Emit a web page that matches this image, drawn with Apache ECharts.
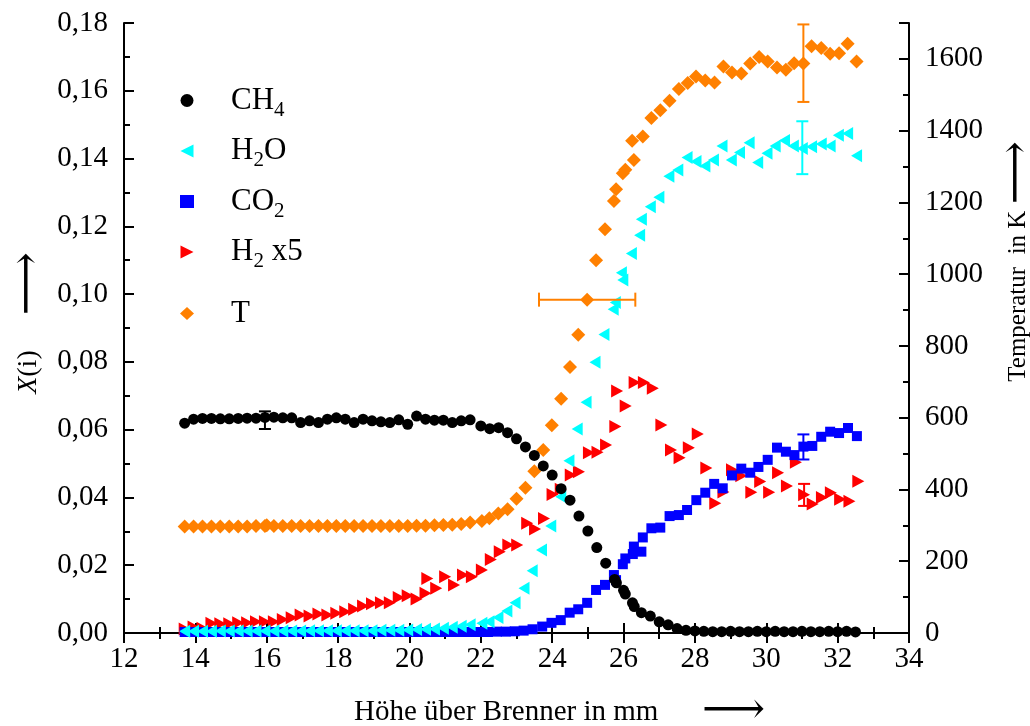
<!DOCTYPE html>
<html>
<head>
<meta charset="utf-8">
<title>Profile</title>
<script src="https://cdn.jsdelivr.net/npm/echarts@6.0.0/dist/echarts.min.js"></script>
<style>
  html, body { margin: 0; padding: 0; background: #fff; }
  #chart { width: 1030px; height: 726px; }
</style>
</head>
<body>
<div id="chart"></div>
<script>
// [height in mm, mole fraction]
const ch4 = [
  [13.70, 0.0619], [13.95, 0.0631], [14.20, 0.0633], [14.45, 0.0633], [14.70, 0.0632], [14.95, 0.0632],
  [15.20, 0.0633], [15.45, 0.0634], [15.70, 0.0634], [15.95, 0.0636], [16.20, 0.0637], [16.45, 0.0635],
  [16.70, 0.0635], [16.95, 0.0621], [17.20, 0.0626], [17.45, 0.0621], [17.70, 0.0631], [17.95, 0.0635],
  [18.20, 0.0631], [18.45, 0.0621], [18.70, 0.0631], [18.95, 0.0626], [19.20, 0.0623], [19.45, 0.0621],
  [19.70, 0.0629], [19.95, 0.0616], [20.20, 0.0640], [20.45, 0.0631], [20.70, 0.0628], [20.95, 0.0628],
  [21.20, 0.0621], [21.45, 0.0626], [21.70, 0.0629], [22.00, 0.0611], [22.25, 0.0603], [22.50, 0.0606],
  [22.75, 0.0591], [23.00, 0.0573], [23.25, 0.0549], [23.50, 0.0524], [23.75, 0.0493], [24.00, 0.0466],
  [24.25, 0.0426], [24.50, 0.0392], [24.75, 0.0345], [25.00, 0.0301], [25.25, 0.0252], [25.50, 0.0206],
  [25.75, 0.0158], [25.80, 0.0148], [26.00, 0.0126], [26.05, 0.0115], [26.25, 0.0089], [26.30, 0.0078],
  [26.50, 0.0060], [26.75, 0.0050], [27.00, 0.0033], [27.25, 0.0024], [27.50, 0.0013], [27.75, 0.0008],
  [28.00, 0.0006], [28.25, 0.0005], [28.50, 0.0004], [28.75, 0.0004], [29.00, 0.0005], [29.25, 0.0004],
  [29.50, 0.0004], [29.75, 0.0005], [30.00, 0.0004], [30.25, 0.0005], [30.50, 0.0004], [30.75, 0.0004],
  [31.00, 0.0005], [31.25, 0.0004], [31.50, 0.0004], [31.75, 0.0005], [32.00, 0.0004], [32.25, 0.0005],
  [32.50, 0.0003]
];

const h2o = [
  [13.70, 0.0005], [13.95, 0.0005], [14.20, 0.0005], [14.45, 0.0005], [14.70, 0.0006], [14.95, 0.0006],
  [15.20, 0.0006], [15.45, 0.0006], [15.70, 0.0006], [15.95, 0.0006], [16.20, 0.0006], [16.45, 0.0006],
  [16.70, 0.0006], [16.95, 0.0006], [17.20, 0.0007], [17.45, 0.0007], [17.70, 0.0007], [17.95, 0.0007],
  [18.20, 0.0007], [18.45, 0.0007], [18.70, 0.0007], [18.95, 0.0007], [19.20, 0.0008], [19.45, 0.0008],
  [19.70, 0.0008], [19.95, 0.0009], [20.20, 0.0010], [20.45, 0.0011], [20.70, 0.0012], [20.95, 0.0014],
  [21.20, 0.0017], [21.45, 0.0020], [21.70, 0.0024], [22.03, 0.0029], [22.23, 0.0033], [22.48, 0.0046],
  [22.73, 0.0065], [22.96, 0.0089], [23.21, 0.0132], [23.44, 0.0184], [23.70, 0.0245], [23.96, 0.0316],
  [24.24, 0.0402], [24.47, 0.0508], [24.70, 0.0602], [24.95, 0.0681], [25.20, 0.0799], [25.45, 0.0881],
  [25.71, 0.0955], [25.77, 0.0975], [25.94, 0.1063], [25.98, 0.1042], [26.22, 0.1120], [26.45, 0.1174],
  [26.50, 0.1221], [26.75, 0.1258], [26.99, 0.1286], [27.27, 0.1348], [27.52, 0.1366], [27.78, 0.1403],
  [28.03, 0.1391], [28.28, 0.1378], [28.52, 0.1396], [28.76, 0.1437], [29.02, 0.1396], [29.25, 0.1418],
  [29.52, 0.1447], [29.76, 0.1388], [30.02, 0.1416], [30.25, 0.1437], [30.51, 0.1453], [30.76, 0.1437],
  [31.01, 0.1430], [31.27, 0.1435], [31.54, 0.1443], [31.79, 0.1437], [32.02, 0.1469], [32.28, 0.1474],
  [32.53, 0.1408]
];

const co2 = [
  [13.70, 0.0003], [13.95, 0.0003], [14.20, 0.0003], [14.45, 0.0003], [14.70, 0.0003], [14.95, 0.0003],
  [15.20, 0.0003], [15.45, 0.0003], [15.70, 0.0003], [15.95, 0.0003], [16.20, 0.0003], [16.45, 0.0003],
  [16.70, 0.0003], [16.95, 0.0003], [17.20, 0.0003], [17.45, 0.0003], [17.70, 0.0003], [17.95, 0.0003],
  [18.20, 0.0003], [18.45, 0.0003], [18.70, 0.0003], [18.95, 0.0003], [19.20, 0.0003], [19.45, 0.0003],
  [19.70, 0.0003], [19.95, 0.0003], [20.20, 0.0003], [20.45, 0.0003], [20.70, 0.0003], [20.95, 0.0003],
  [21.20, 0.0003], [21.45, 0.0003], [21.70, 0.0003], [21.95, 0.0003], [22.20, 0.0003], [22.45, 0.0004],
  [22.70, 0.0004], [22.95, 0.0005], [23.20, 0.0007], [23.45, 0.0011], [23.72, 0.0019], [23.98, 0.0030],
  [24.24, 0.0038], [24.49, 0.0060], [24.73, 0.0070], [24.98, 0.0089], [25.23, 0.0127], [25.48, 0.0142],
  [25.73, 0.0171], [25.79, 0.0156], [25.98, 0.0203], [26.05, 0.0220], [26.26, 0.0233], [26.29, 0.0255],
  [26.50, 0.0240], [26.54, 0.0282], [26.78, 0.0309], [27.03, 0.0311], [27.29, 0.0345], [27.55, 0.0348],
  [27.78, 0.0363], [28.04, 0.0392], [28.29, 0.0414], [28.54, 0.0440], [28.78, 0.0427], [29.04, 0.0465],
  [29.30, 0.0485], [29.55, 0.0473], [29.78, 0.0490], [30.04, 0.0511], [30.30, 0.0547], [30.55, 0.0535],
  [30.79, 0.0525], [31.04, 0.0550], [31.29, 0.0552], [31.54, 0.0579], [31.79, 0.0594], [32.04, 0.0590],
  [32.29, 0.0605], [32.54, 0.0581]
];

// H2 mole fraction multiplied by 5
const h2x5 = [
  [13.70, 0.0012], [13.95, 0.0018], [14.20, 0.0014], [14.45, 0.0029], [14.70, 0.0027], [14.95, 0.0027],
  [15.20, 0.0030], [15.45, 0.0030], [15.70, 0.0033], [15.95, 0.0033], [16.20, 0.0033], [16.45, 0.0040],
  [16.70, 0.0045], [16.95, 0.0053], [17.20, 0.0050], [17.45, 0.0056], [17.70, 0.0053], [17.95, 0.0058],
  [18.20, 0.0063], [18.45, 0.0070], [18.70, 0.0080], [18.95, 0.0086], [19.20, 0.0089], [19.45, 0.0089],
  [19.70, 0.0105], [19.95, 0.0110], [20.20, 0.0100], [20.45, 0.0117], [20.50, 0.0161], [20.75, 0.0132],
  [21.00, 0.0166], [21.25, 0.0142], [21.50, 0.0171], [21.75, 0.0166], [22.03, 0.0186], [22.28, 0.0217],
  [22.53, 0.0240], [22.77, 0.0260], [23.02, 0.0260], [23.30, 0.0324], [23.52, 0.0307], [23.77, 0.0338],
  [24.01, 0.0409], [24.24, 0.0424], [24.52, 0.0466], [24.75, 0.0476], [25.03, 0.0532], [25.27, 0.0533],
  [25.51, 0.0555], [25.77, 0.0609], [25.82, 0.0714], [26.06, 0.0670], [26.31, 0.0739], [26.57, 0.0739],
  [26.82, 0.0722], [27.06, 0.0614], [27.33, 0.0540], [27.57, 0.0517], [27.83, 0.0547], [28.08, 0.0587],
  [28.32, 0.0487], [28.57, 0.0383], [28.80, 0.0416], [29.04, 0.0482], [29.30, 0.0464], [29.58, 0.0415],
  [29.83, 0.0447], [30.08, 0.0415], [30.33, 0.0473], [30.58, 0.0434], [30.83, 0.0504], [31.06, 0.0408],
  [31.30, 0.0381], [31.56, 0.0400], [31.81, 0.0414], [32.07, 0.0395], [32.33, 0.0389], [32.58, 0.0448]
];

// temperature in K (right axis)
const temp = [
  [13.70, 297], [13.95, 297], [14.20, 297], [14.45, 297], [14.70, 297], [14.95, 297], [15.20, 297],
  [15.45, 297], [15.70, 298], [15.95, 298], [16.00, 300], [16.20, 298], [16.45, 298], [16.70, 298],
  [16.95, 298], [17.20, 298], [17.45, 298], [17.70, 298], [17.95, 298], [18.20, 298], [18.45, 298],
  [18.70, 298], [18.95, 298], [19.20, 298], [19.45, 298], [19.70, 298], [19.95, 298], [20.20, 299],
  [20.45, 299], [20.70, 300], [20.95, 301], [21.20, 302], [21.45, 304], [21.70, 308], [22.03, 312],
  [22.24, 320], [22.49, 333], [22.75, 345], [23.00, 374], [23.25, 405], [23.50, 451], [23.75, 510],
  [23.99, 579], [24.25, 653], [24.50, 741], [24.73, 831], [24.98, 929], [25.23, 1039], [25.48, 1125],
  [25.73, 1204], [25.79, 1237], [25.98, 1281], [26.05, 1291], [26.24, 1372], [26.29, 1318], [26.54, 1384],
  [26.78, 1435], [27.03, 1457], [27.29, 1483], [27.55, 1516], [27.80, 1533], [28.03, 1551], [28.29, 1540],
  [28.55, 1534], [28.80, 1579], [29.04, 1562], [29.30, 1559], [29.55, 1587], [29.80, 1605], [30.04, 1593],
  [30.30, 1576], [30.55, 1570], [30.78, 1588], [31.04, 1587], [31.27, 1635], [31.54, 1630], [31.79, 1614],
  [32.04, 1616], [32.28, 1642], [32.53, 1593]
];

// error bars: [x, low, high] (vertical) and [y, xLow, xHigh] (horizontal)
const ch4Err = [[15.95, 0.0602, 0.0654]];
const h2oErr = [[31.01, 0.1354, 0.1510]];
const co2Err = [[31.04, 0.0512, 0.0586]];
const h2Err = [[31.06, 0.0375, 0.0440]];
const tempErr = [[31.04, 1480, 1696]];
const tempErrX = [[929, 23.63, 26.33]];

const tempLabels = [0, 200, 400, 600, 800, 1000, 1200, 1400, 1600];

const FONT = 'Liberation Serif';
const ARROW = '"DejaVu Serif", "DejaVu Sans"';

const legendLabel = {
  'CH4': '{m|CH}{s|4}',
  'H2O': '{m|H}{s|2}{m|O}',
  'CO2': '{m|CO}{s|2}',
  'H2 x5': '{m|H}{s|2}{m| x5}',
  'T': '{m|T}',
};
const legendRich = {
  m: { fontFamily: FONT, fontSize: 31, lineHeight: 40, color: '#000' },
  s: { fontFamily: FONT, fontSize: 21, lineHeight: 12, verticalAlign: 'bottom', color: '#000' },
};

const tickLine = { color: '#000', width: 2 };
const arrowStyle = { fontFamily: ARROW, fontSize: 44, lineHeight: 30, color: '#000' };

function scatter(name, data, symbol, size, color, yAxisIndex) {
  return {
    name: name,
    type: 'scatter',
    data: data,
    yAxisIndex: yAxisIndex,
    symbol: symbol,
    symbolSize: size,
    itemStyle: { color: color, opacity: 1 },
    emphasis: { disabled: true },
    z: 3,
  };
}

function errorBars(data, color, yAxisIndex, cap, horizontal) {
  return {
    type: 'custom',
    data: data,
    yAxisIndex: yAxisIndex,
    silent: true,
    z: 5,
    encode: horizontal ? { x: [1, 2], y: 0 } : { x: 0, y: [1, 2] },
    renderItem: (params, api) => {
      let a, b;
      if (horizontal) {
        a = api.coord([api.value(1), api.value(0)]);
        b = api.coord([api.value(2), api.value(0)]);
      } else {
        a = api.coord([api.value(0), api.value(1)]);
        b = api.coord([api.value(0), api.value(2)]);
      }
      const style = { stroke: color, lineWidth: 2, fill: null };
      const capAt = (p) => horizontal
        ? { type: 'line', shape: { x1: p[0], y1: p[1] - cap, x2: p[0], y2: p[1] + cap }, style: style }
        : { type: 'line', shape: { x1: p[0] - cap, y1: p[1], x2: p[0] + cap, y2: p[1] }, style: style };
      return {
        type: 'group',
        children: [
          { type: 'line', shape: { x1: a[0], y1: a[1], x2: b[0], y2: b[1] }, style: style },
          capAt(a),
          capAt(b),
        ],
      };
    },
  };
}

const triRight = 'path://M0,0L10,5L0,10Z';
const triLeft = 'path://M10,0L0,5L10,10Z';

function legendBlock(names, top) {
  return {
    data: names,
    orient: 'vertical',
    left: 175,
    top: top,
    itemWidth: 14,
    itemHeight: 13,
    itemGap: 15,
    selectedMode: false,
    formatter: (n) => legendLabel[n],
    textStyle: { rich: legendRich, padding: [0, 0, 0, 32] },
  };
}

const chart = echarts.init(document.getElementById('chart'), null, { renderer: 'canvas' });

chart.setOption({
  animation: false,
  backgroundColor: '#fff',
  grid: { left: 124, right: 121, top: 23, bottom: 93, containLabel: false, outerBoundsMode: 'none' },
  legend: [
    legendBlock(['CH4', 'H2O', 'CO2', 'H2 x5'], 80),
    legendBlock(['T'], 293),
  ],
  xAxis: [
    {
      type: 'value',
      position: 'bottom',
      min: 12,
      max: 34,
      interval: 2,
      axisLine: { lineStyle: tickLine },
      axisTick: { inside: true, length: 10, lineStyle: tickLine },
      minorTick: { show: true, splitNumber: 2, length: 6, lineStyle: tickLine },
      splitLine: { show: false },
      axisLabel: { color: '#000', fontFamily: FONT, fontSize: 29, margin: 12 },
      name: 'Höhe über Brenner in mm      {a|⟶}',
      nameLocation: 'middle',
      nameGap: 64,
      nameMoveOverlap: false,
      nameTextStyle: {
        color: '#000', fontFamily: FONT, fontSize: 29, padding: [0, 0, 0, 86],
        rich: { a: arrowStyle },
      },
    },
    {
      type: 'value',
      position: 'top',
      min: 12,
      max: 34,
      interval: 2,
      axisLine: { lineStyle: tickLine },
      axisTick: { inside: true, length: 10, lineStyle: tickLine },
      minorTick: { show: true, splitNumber: 2, length: 6, lineStyle: tickLine },
      splitLine: { show: false },
      axisLabel: { show: false },
    },
  ],
  yAxis: [
    {
      type: 'value',
      position: 'left',
      min: 0,
      max: 0.18,
      interval: 0.02,
      axisLine: { show: true, lineStyle: tickLine },
      axisTick: { inside: true, length: 10, lineStyle: tickLine },
      minorTick: { show: true, splitNumber: 2, length: 6, lineStyle: tickLine },
      splitLine: { show: false },
      axisLabel: {
        color: '#000', fontFamily: FONT, fontSize: 29, margin: 16,
        formatter: (v) => v.toFixed(2).replace('.', ','),
      },
      name: '{i|X}(i)     {a|⟶}',
      nameLocation: 'middle',
      nameRotate: 90,
      nameGap: 80,
      nameMoveOverlap: false,
      nameTextStyle: {
        color: '#000', fontFamily: FONT, fontSize: 28, padding: [0, 0, 0, 10],
        rich: {
          i: { fontFamily: FONT, fontSize: 28, fontStyle: 'italic', color: '#000' },
          a: arrowStyle,
        },
      },
    },
    {
      type: 'value',
      position: 'right',
      min: 0,
      max: 1700,
      interval: 100,
      axisLine: { show: true, lineStyle: tickLine },
      axisTick: { inside: true, length: 6, lineStyle: tickLine },
      splitLine: { show: false },
      axisLabel: {
        color: '#000', fontFamily: FONT, fontSize: 29, margin: 16,
        formatter: (v) => (tempLabels.indexOf(v) >= 0 ? String(v) : ''),
      },
      name: 'Temperatur  in K {a|⟶}',
      nameLocation: 'middle',
      nameRotate: 90,
      nameGap: 94,
      nameMoveOverlap: false,
      nameTextStyle: {
        color: '#000', fontFamily: FONT, fontSize: 25, padding: [0, 0, 0, 133],
        rich: { a: arrowStyle },
      },
    },
    {
      type: 'value',
      position: 'right',
      min: 0,
      max: 1700,
      interval: 200,
      axisLine: { show: false },
      axisTick: { inside: true, length: 10, lineStyle: tickLine },
      splitLine: { show: false },
      axisLabel: { show: false },
    },
  ],
  series: [
    scatter('T', temp, 'diamond', 14, '#FF8000', 1),
    scatter('H2 x5', h2x5, triRight, [12, 13], '#FF0000', 0),
    scatter('CO2', co2, 'rect', 10, '#0000FF', 0),
    scatter('H2O', h2o, triLeft, [11, 13], '#00FFFF', 0),
    scatter('CH4', ch4, 'circle', 11, '#000000', 0),
    errorBars(ch4Err, '#000000', 0, 6, false),
    errorBars(h2oErr, '#00FFFF', 0, 6, false),
    errorBars(co2Err, '#0000FF', 0, 6, false),
    errorBars(h2Err, '#FF0000', 0, 6, false),
    errorBars(tempErr, '#FF8000', 1, 6, false),
    errorBars(tempErrX, '#FF8000', 1, 7, true),
  ],
});
</script>
</body>
</html>
